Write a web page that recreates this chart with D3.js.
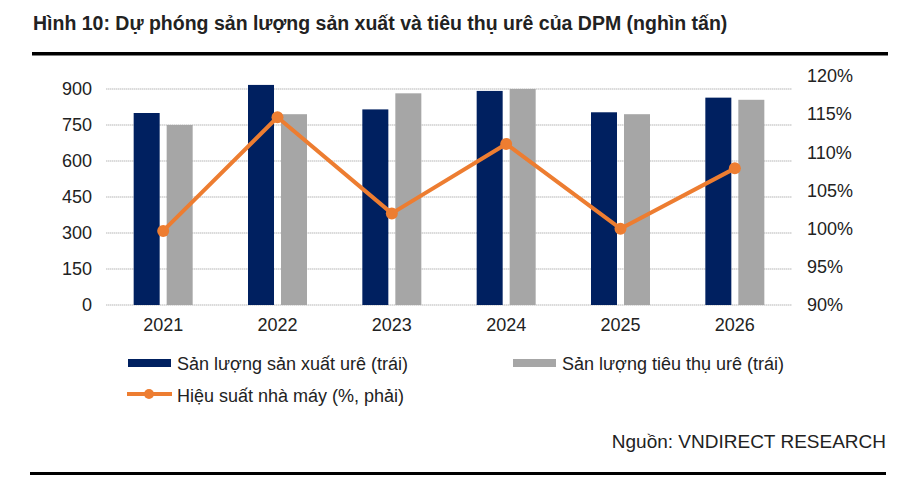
<!DOCTYPE html>
<html><head><meta charset="utf-8">
<script src="https://cdn.jsdelivr.net/npm/d3@7"></script>
<style>body{margin:0;background:#fff}svg{display:block;font-family:"Liberation Sans",Arial,sans-serif}</style>
</head><body><svg id="c" width="901" height="480"></svg>
<script>
const years = ["2021","2022","2023","2024","2025","2026"];
const production = [800, 917, 815, 892, 803, 864];
const consumption = [750, 795, 882, 900, 795, 855];
const efficiency = [99.7, 114.6, 102.0, 111.1, 100.0, 107.9];
const leftTicks = [0,150,300,450,600,750,900];
const rightTicks = [90,95,100,105,110,115,120];
const seriesNames = ["Sản lượng sản xuất urê (trái)","Sản lượng tiêu thụ urê (trái)","Hiệu suất nhà máy (%, phải)"];
const colors = {prod:"#002060", cons:"#a6a6a6", line:"#ED7D31"};

const svg = d3.select("#c");
svg.append("text").attr("x",33).attr("y",30).attr("font-weight","bold").attr("font-size",19.5).attr("fill","#222")
  .text("Hình 10: Dự phóng sản lượng sản xuất và tiêu thụ urê của DPM (nghìn tấn)");
svg.append("rect").attr("x",32).attr("y",52).attr("width",856).attr("height",3.5).attr("fill","#000");
svg.append("rect").attr("x",30).attr("y",472).attr("width",856).attr("height",3).attr("fill","#000");

const x = d3.scaleBand().domain(years).range([106,792]);
const yL = d3.scaleLinear().domain([0,900]).range([305,89]);
const yR = d3.scaleLinear().domain([90,120]).range([305,76]);

// gridlines
svg.append("g").selectAll("line").data(leftTicks).join("line")
  .attr("x1",106).attr("x2",792).attr("y1",d=>yL(d)).attr("y2",d=>yL(d))
  .attr("stroke","#cfcfcf").attr("stroke-width",1.5).attr("stroke-dasharray","1.5,0.5");

const inner = d3.scaleBand().domain(["p","c"]).range([0,59]).paddingInner(0.212);
const off = (x.bandwidth()-59)/2;
const g = svg.append("g");
g.selectAll(".p").data(years).join("rect").attr("class","p")
  .attr("x",(d)=>x(d)+off+inner("p")).attr("width",inner.bandwidth())
  .attr("y",(d,i)=>yL(production[i])).attr("height",(d,i)=>yL(0)-yL(production[i])).attr("fill",colors.prod);
g.selectAll(".c").data(years).join("rect").attr("class","c")
  .attr("x",(d)=>x(d)+off+inner("c")).attr("width",inner.bandwidth())
  .attr("y",(d,i)=>yL(consumption[i])).attr("height",(d,i)=>yL(0)-yL(consumption[i])).attr("fill",colors.cons);

// axes
const axL = d3.axisLeft(yL).tickValues(leftTicks).tickSize(0).tickPadding(0);
const gl = svg.append("g").attr("transform","translate(92,0)").call(axL);
const axR = d3.axisRight(yR).tickValues(rightTicks).tickSize(0).tickPadding(0).tickFormat(d=>d+"%");
const gr = svg.append("g").attr("transform","translate(807,0)").call(axR);
const axB = d3.axisBottom(x).tickSize(0).tickPadding(0);
const gb = svg.append("g").attr("transform","translate(0,318)").call(axB);
[gl,gr,gb].forEach(a=>{a.select(".domain").remove();a.selectAll("text").attr("font-size",18).attr("fill","#222").attr("font-family","Liberation Sans, Arial, sans-serif");});
gb.selectAll("text").attr("dy","0.71em");

// line
const cx = d=>x(d)+x.bandwidth()/2;
const line = d3.line().x((d,i)=>cx(years[i])).y(d=>yR(d));
svg.append("path").datum(efficiency).attr("d",line).attr("fill","none").attr("stroke",colors.line).attr("stroke-width",4).attr("stroke-linejoin","round");
svg.append("g").selectAll("circle").data(efficiency).join("circle")
  .attr("cx",(d,i)=>cx(years[i])).attr("cy",d=>yR(d)).attr("r",6).attr("fill",colors.line);

// legend
const lg = svg.append("g").attr("font-size",18).attr("fill","#222");
lg.append("rect").attr("x",128).attr("y",359).attr("width",43).attr("height",8).attr("fill",colors.prod);
lg.append("text").attr("x",177).attr("y",369.5).text(seriesNames[0]);
lg.append("rect").attr("x",513).attr("y",359).attr("width",43).attr("height",8).attr("fill",colors.cons);
lg.append("text").attr("x",562).attr("y",369.5).text(seriesNames[1]);
lg.append("line").attr("x1",127).attr("x2",172).attr("y1",394).attr("y2",394).attr("stroke",colors.line).attr("stroke-width",4);
lg.append("circle").attr("cx",149).attr("cy",394).attr("r",5).attr("fill",colors.line);
lg.append("text").attr("x",177).attr("y",401.5).text(seriesNames[2]);

svg.append("text").attr("x",886).attr("y",448).attr("text-anchor","end").attr("font-size",19).attr("fill","#222")
  .text("Nguồn: VNDIRECT RESEARCH");
</script></body></html>
